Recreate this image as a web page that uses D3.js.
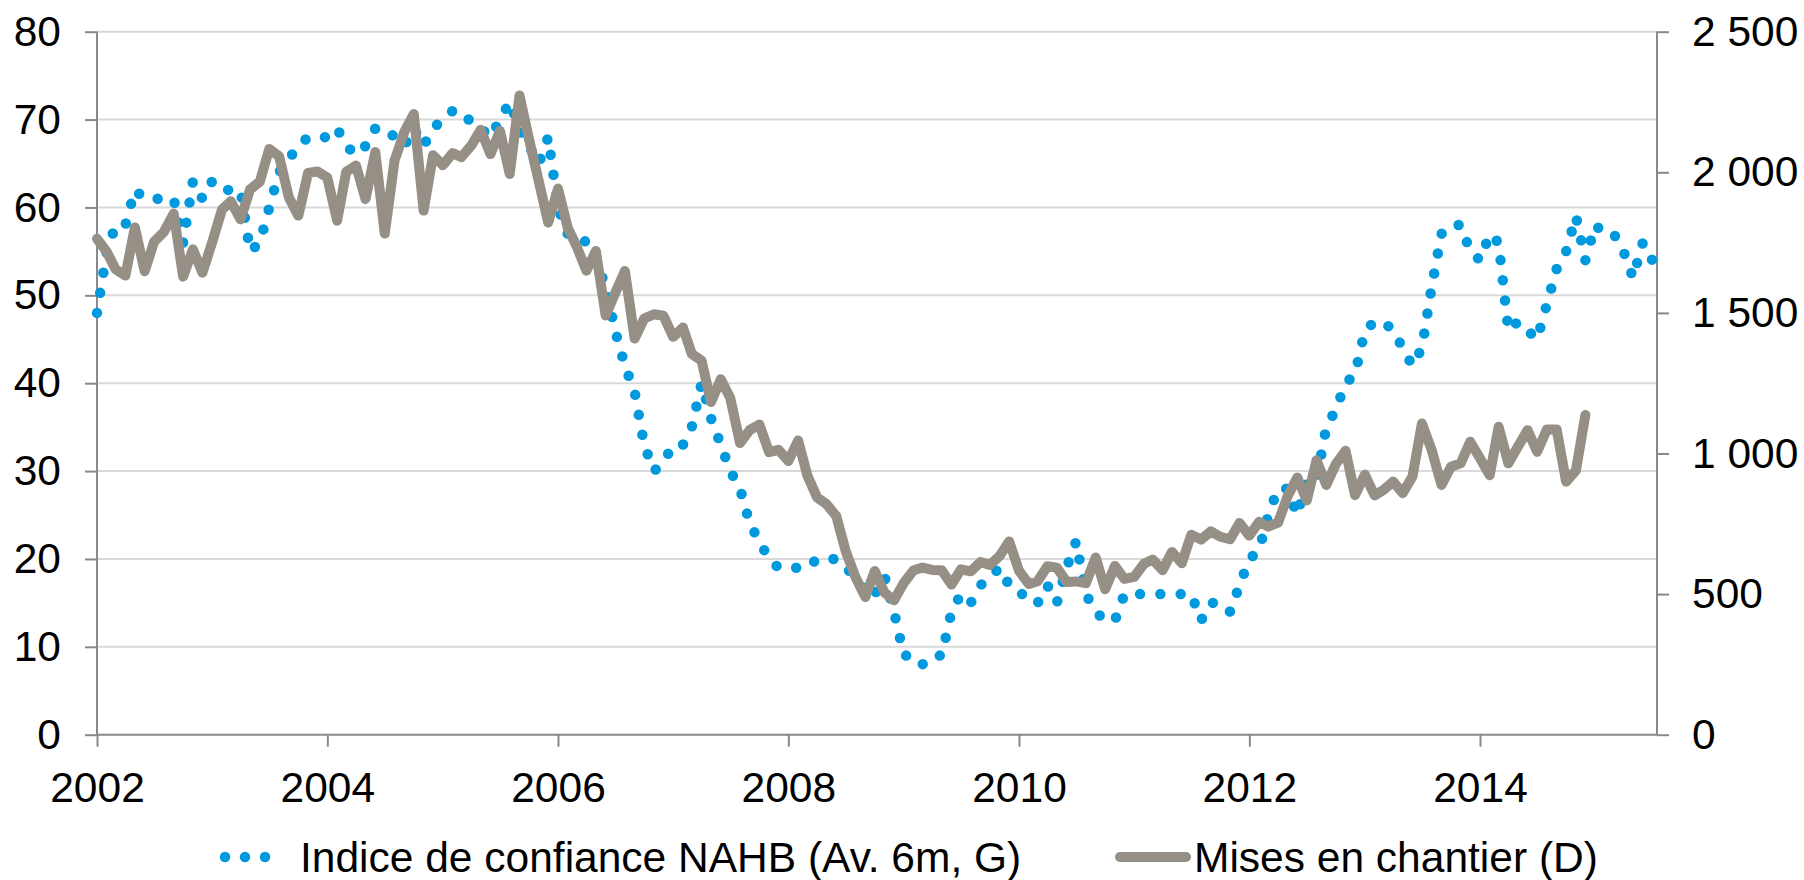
<!DOCTYPE html>
<html>
<head>
<meta charset="utf-8">
<script src="https://cdn.jsdelivr.net/npm/d3@7"></script>
<style>
  html, body { margin: 0; padding: 0; background: #ffffff; }
  svg { display: block; }
  text { font-family: "Liberation Sans", Arial, sans-serif; fill: #000; }
</style>
</head>
<body>
<svg id="chart" width="1804" height="880"></svg>
<script>
// ---- Data (monthly, as plotted on the chart's time axis) ----
// NAHB confidence index, plotted from Jan 2002 (left axis)
const nahbStart = [2002, 0];
const nahbValues = [
  48,55,58,58,62,61,61,61,61,56,63,61,
  63,62,62,62,55,56,60,64,65.5,67,68,68,
  68,69,67,66,67,69,69,68,67,69,67,69,
  70,71,70,70,69,68,70,72,69,67,65,68,
  60,57,57,56,54,51,46,42,39,33,30,31,
  33,33,35,40,36,33,30,28,24,22,20,19,
  19,19,19,20,20,20,19,18,16,16,18,14,
  9,9,8,9,9,14,16,15,17,18,19,17,
  16,16,15,17,15,19,22,16,14,13,13,16,
  16,16,16,16,16,16,16,13,15,15,14,17,
  20,21,25,28,28,25,29,29,35,37,40,41,
  46,47,47,46,44,42,44,51,57,58,58,55,
  54,57,56,46,47,46,45,49,53,55,59,54,
  58,57,57,55,52,56,54
];
// Housing starts (thousands, right axis), plotted from Jan 2002
const startsStart = [2002, 0];
const startsValues = [
  1764,1717,1655,1633,1804,1648,1753,1788,1853,1629,1726,1643,
  1751,1867,1897,1833,1939,1967,2083,2057,1911,1846,1998,2003,
  1981,1828,2002,2024,1905,2072,1782,2042,2144,2207,1864,2061,
  2025,2068,2054,2095,2151,2065,2147,1994,2273,2119,1969,1821,
  1942,1802,1737,1650,1720,1491,1570,1649,1409,1480,1495,1490,
  1415,1448,1354,1330,1183,1264,1197,1037,1084,1103,1005,1013,
  973,1046,923,844,820,777,652,560,490,582,505,478,
  540,585,594,586,585,534,588,581,614,604,636,687,
  583,536,546,599,594,543,545,539,630,517,600,554,
  561,608,623,585,650,610,711,694,723,704,695,753,
  708,757,740,754,847,915,833,976,888,962,1010,852,
  925,851,870,900,859,918,1107,1012,888,953,965,1042,
  983,923,1095,965,1024,1083,1006,1085,1085,900,940,1137
];
const leftTicks = [0,10,20,30,40,50,60,70,80];
const rightTicks = [0,500,1000,1500,2000,2500];
const rightTickLabels = ["0","500","1 000","1 500","2 000","2 500"];
const xTickYears = [2002,2004,2006,2008,2010,2012,2014];
const legendLabels = ["Indice de confiance NAHB (Av. 6m, G)", "Mises en chantier (D)"];

(function () {
// ---- Layout ----
const svg = d3.select("#chart");
const pLeft = 97, pRight = 1657, pTop = 31.7, pBottom = 734.7;
const FONT = 42.5;
const axisColor = "#898989";
const gridColor = "#D9D9D9";
const blue = "#0099DD";
const gray = "#958F86";

const x = d3.scaleTime()
  .domain([new Date(2002, 0, 1), new Date(2015, 6, 16)])
  .range([pLeft, pRight]);
const yL = d3.scaleLinear().domain([0, 80]).range([pBottom, pTop]);
const yR = d3.scaleLinear().domain([0, 2500]).range([pBottom, pTop]);

const nahb = nahbValues.map((v, i) => ({ date: new Date(nahbStart[0], nahbStart[1] + i, 1), v }));
const starts = startsValues.map((v, i) => ({ date: new Date(startsStart[0], startsStart[1] + i, 1), v }));

svg.append("rect").attr("width", 1804).attr("height", 880).attr("fill", "#fff");

// gridlines
svg.append("g").selectAll("line").data(leftTicks.filter(t => t > 0)).join("line")
  .attr("x1", pLeft).attr("x2", pRight)
  .attr("y1", d => yL(d)).attr("y2", d => yL(d))
  .attr("stroke", gridColor).attr("stroke-width", 2);

// left axis
const gL = svg.append("g").attr("transform", `translate(${pLeft},0)`)
  .call(d3.axisLeft(yL).tickValues(leftTicks).tickSize(12).tickPadding(24).tickFormat(d3.format("d")));
// right axis
const gR = svg.append("g").attr("transform", `translate(${pRight},0)`)
  .call(d3.axisRight(yR).tickValues(rightTicks).tickSize(12).tickPadding(23)
    .tickFormat(d => rightTickLabels[rightTicks.indexOf(d)]));
// bottom axis
const gB = svg.append("g").attr("transform", `translate(0,${pBottom})`)
  .call(d3.axisBottom(x).tickValues(xTickYears.map(yr => new Date(yr, 0, 1))).tickSize(12).tickPadding(25)
    .tickFormat(d3.timeFormat("%Y")));

[gL, gR, gB].forEach(g => {
  g.select(".domain").attr("stroke", axisColor).attr("stroke-width", 2);
  g.selectAll(".tick line").attr("stroke", axisColor).attr("stroke-width", 2);
  g.selectAll(".tick text").attr("font-size", FONT).attr("fill", "#000")
    .attr("font-family", '"Liberation Sans", Arial, sans-serif');
});
gL.select(".domain").attr("d", `M0,${pTop}V${pBottom}`);
gR.select(".domain").attr("d", `M0,${pTop}V${pBottom}`);
gB.select(".domain").attr("d", `M${pLeft},0H${pRight}`);

// NAHB dotted line
const lineL = d3.line().x(d => x(d.date)).y(d => yL(d.v));
svg.append("path").datum(nahb)
  .attr("d", lineL)
  .attr("fill", "none")
  .attr("stroke", blue)
  .attr("stroke-width", 10.5)
  .attr("stroke-linecap", "round")
  .attr("stroke-linejoin", "round")
  .attr("stroke-dasharray", "0 20.3");

// Housing starts solid line
const lineR = d3.line().x(d => x(d.date)).y(d => yR(d.v));
svg.append("path").datum(starts)
  .attr("d", lineR)
  .attr("fill", "none")
  .attr("stroke", gray)
  .attr("stroke-width", 10)
  .attr("stroke-linejoin", "round")
  .attr("stroke-linecap", "round");

// legend
const legY = 857;
const leg = svg.append("g");
leg.append("path")
  .attr("d", `M225,${legY}H285`)
  .attr("stroke", blue).attr("stroke-width", 10.5)
  .attr("stroke-linecap", "round").attr("stroke-dasharray", "0 20");
leg.append("text").attr("x", 300).attr("y", legY).attr("dy", "0.35em")
  .attr("font-size", FONT).text(legendLabels[0]);
leg.append("path")
  .attr("d", `M1120,${legY}H1186`)
  .attr("stroke", gray).attr("stroke-width", 10)
  .attr("stroke-linecap", "round");
leg.append("text").attr("x", 1194).attr("y", legY).attr("dy", "0.35em")
  .attr("font-size", FONT).text(legendLabels[1]);
})();
</script>
</body>
</html>
